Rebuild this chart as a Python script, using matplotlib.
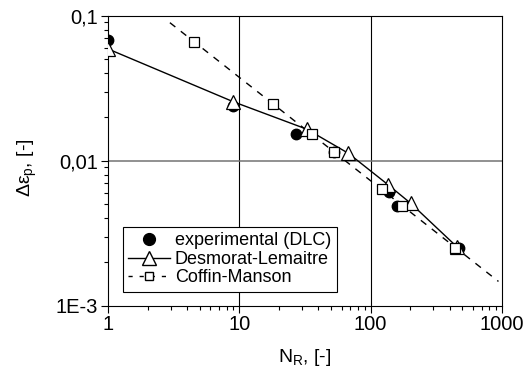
import matplotlib
matplotlib.use('Agg')
import matplotlib.pyplot as plt
from matplotlib.ticker import FixedLocator, FixedFormatter, LogLocator, NullFormatter

plt.rcParams['font.family'] = ['Liberation Sans', 'DejaVu Sans']
plt.rcParams['mathtext.default'] = 'regular'

# experimental (DLC)
exp_n = [1.0, 9.0, 26.9, 52.6, 138.8, 159.7, 471]
exp_eps = [0.068, 0.0238, 0.0153, 0.0114, 0.0061, 0.00488, 0.0025]

# Desmorat-Lemaitre
dl_n = [1.0, 9.0, 32.6, 67.6, 136.4, 202, 453]
dl_eps = [0.059, 0.0255, 0.0165, 0.01125, 0.0068, 0.00508, 0.00255]

# Coffin-Manson points and fitted line
cm_n = [4.54, 18.2, 35.6, 52.6, 121.5, 172.6, 438]
cm_eps = [0.066, 0.0246, 0.0153, 0.0114, 0.00635, 0.0049, 0.0025]
cm_line_n = [2.96, 940]
cm_line_eps = [0.0895, 0.00147]

xticks = [1, 10, 100, 1000]
xticklabels = ['1', '10', '100', '1000']
yticks = [0.001, 0.01, 0.1]
yticklabels = ['1E-3', '0,01', '0,1']

fig = plt.figure(figsize=(5.29, 3.81), dpi=100)
ax = fig.add_axes([108/529, 1-305.7/381, 394/529, 290/381])

ax.axvline(10, color='k', lw=0.8, zorder=1)
ax.axvline(100, color='k', lw=0.8, zorder=1)
ax.axhline(0.01, color='0.45', lw=1.1, zorder=1)

ax.plot(cm_line_n, cm_line_eps, color='k', lw=1.0, dashes=(5, 5), zorder=2)
ax.plot(exp_n, exp_eps, 'o', color='k', ms=7.5, zorder=3, clip_on=True)
ax.plot(dl_n, dl_eps, '-', color='k', lw=1.0, zorder=4)
ax.plot(dl_n, dl_eps, '^', mfc='white', mec='k', mew=0.9, ms=9.5, zorder=5)
ax.plot(cm_n, cm_eps, 's', mfc='white', mec='k', mew=0.9, ms=6.5, zorder=6)

# legend proxies
h1, = ax.plot([], [], 'o', color='k', ms=8.5)
h2, = ax.plot([], [], '-^', color='k', lw=1.0, mfc='white', mec='k', ms=9.5)
h3, = ax.plot([], [], 's', color='k', lw=1.0, ls='--', mfc='white', mec='k', ms=6)
h3.set_linestyle((0, (3, 5)))
leg = ax.legend([h1, h2, h3], ['experimental (DLC)', 'Desmorat-Lemaitre', 'Coffin-Manson'],
                loc='lower left', bbox_to_anchor=(0.037, 0.048), borderaxespad=0,
                fontsize=13, handlelength=2.3, handletextpad=0.3, labelspacing=0.08,
                borderpad=0.3, fancybox=False, framealpha=1, edgecolor='k')
leg.get_frame().set_linewidth(0.8)

ax.set_xscale('log')
ax.set_yscale('log')
ax.set_xlim(1, 1000)
ax.set_ylim(0.001, 0.1)

ax.xaxis.set_major_locator(FixedLocator(xticks))
ax.xaxis.set_major_formatter(FixedFormatter(xticklabels))
ax.xaxis.set_minor_locator(LogLocator(base=10, subs=range(2, 10)))
ax.xaxis.set_minor_formatter(NullFormatter())
ax.yaxis.set_major_locator(FixedLocator(yticks))
ax.yaxis.set_major_formatter(FixedFormatter(yticklabels))
ax.yaxis.set_minor_locator(LogLocator(base=10, subs=range(2, 10)))
ax.yaxis.set_minor_formatter(NullFormatter())

ax.tick_params(which='both', direction='out', top=False, right=False, labelsize=14.5, width=0.8)
ax.tick_params(which='major', length=5, pad=2)
ax.tick_params(which='minor', length=3)
for s in ax.spines.values():
    s.set_linewidth(0.8)

fig.text(27/529, 1-168/381, r'Δε$_p$, [-]', rotation=90, ha='center', va='center', fontsize=14)
fig.text(305/529, 1-358/381, r'N$_R$, [-]', ha='center', va='center', fontsize=14)

fig.savefig('out.png', dpi=100)
